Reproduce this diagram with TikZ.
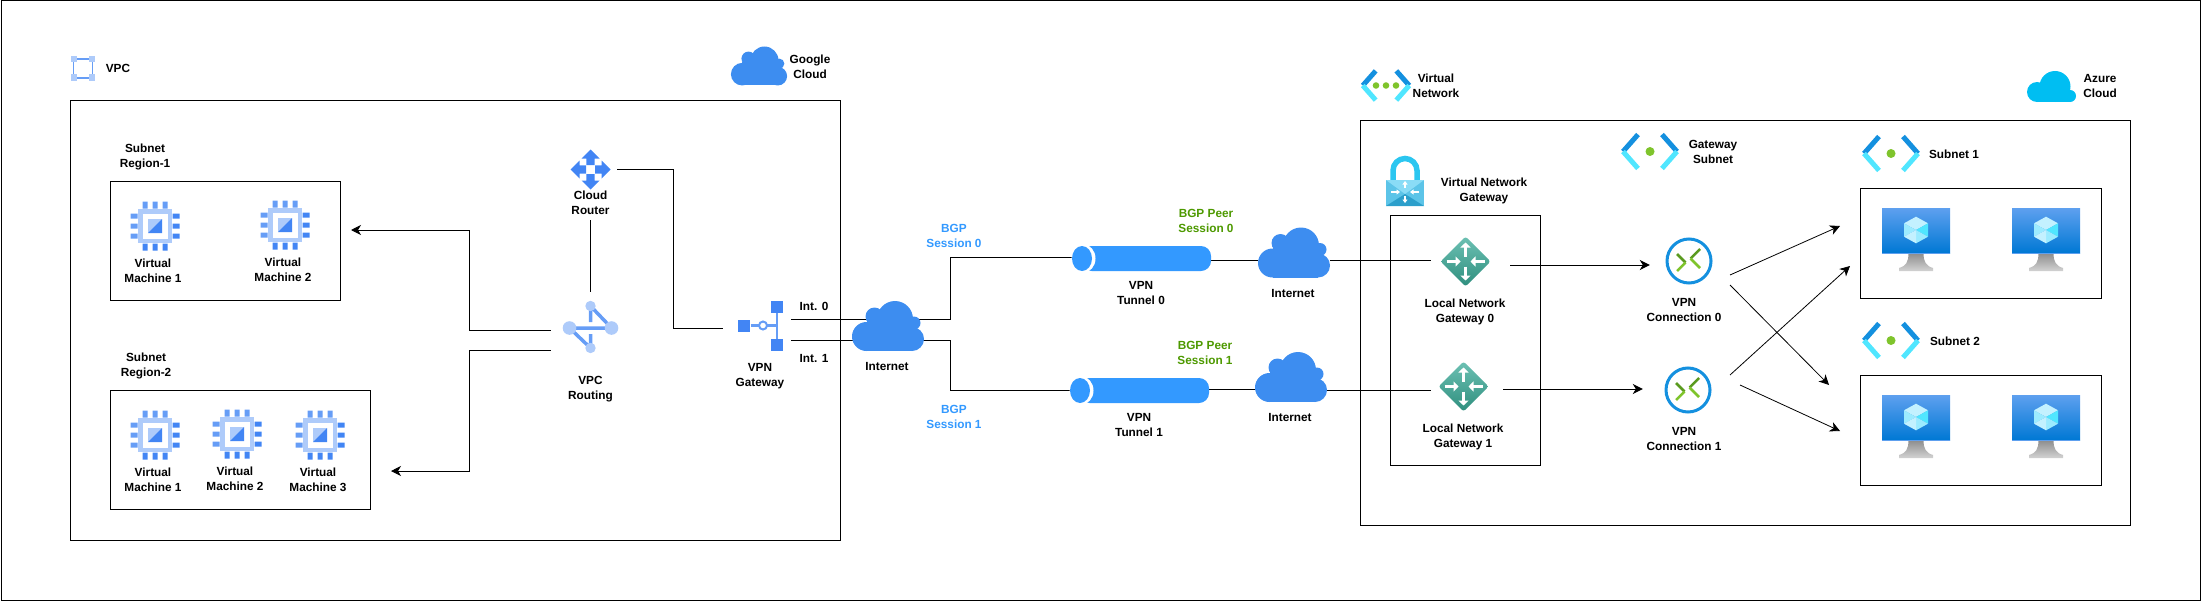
\documentclass[tikz,border=0pt]{standalone}
\usepackage{fontspec}
\setmainfont{Liberation Sans}
\usetikzlibrary{arrows.meta,positioning}

\definecolor{gblue}{HTML}{4285F4}
\definecolor{gmid}{HTML}{669DF6}
\definecolor{glight}{HTML}{AECBFA}
\definecolor{cloudblue}{HTML}{3D8DF0}
\definecolor{azurecloud}{HTML}{00BEF2}
\definecolor{tunnelblue}{HTML}{3399FF}
\definecolor{peergreen}{HTML}{4D9900}
\definecolor{azdark}{HTML}{1490DF}
\definecolor{azlight}{HTML}{50E6FF}
\definecolor{azgreen}{HTML}{7FC42C}
\definecolor{azdkgreen}{HTML}{5A9A1F}
\definecolor{tealtop}{HTML}{6CC0B3}
\definecolor{tealbot}{HTML}{2F8F7E}
\definecolor{locktop}{HTML}{8ADCF6}
\definecolor{lockmid}{HTML}{5CC4E8}
\definecolor{lockbot}{HTML}{2C9FCB}
\definecolor{shackle}{HTML}{2BC6F0}
\definecolor{screentop}{HTML}{5EA0EF}
\definecolor{screenbot}{HTML}{0078D4}
\definecolor{cubetop}{HTML}{C3F1FF}
\definecolor{cubeside}{HTML}{9CEBFF}

\begin{document}
\begin{tikzpicture}[
  x=1pt, y=-1pt,
  lbl/.style={inner sep=0pt, align=center, font=\fontsize{11.8}{15}\selectfont\bfseries},
  bgplbl/.style={lbl, text=tunnelblue},
  peerlbl/.style={lbl, text=peergreen},
  slot/.style={inner sep=0pt, minimum width=#1},
  frame/.style={draw, line width=1pt, inner sep=0pt},
  link/.style={line width=1pt},
  arrow/.style={link, -{Stealth[length=10pt,width=10pt,inset=3pt]}},
  slant/.style={arrow, line width=.8pt},
  % icons
  chip/.pic={
    \fill[glight] (-17,-17) rectangle (17,17);
    \fill[white] (-12.5,-12.5) rectangle (12.5,12.5);
    \fill[glight] (-7,-7) rectangle (7,7);
    \fill[gblue] (7,-7) -- (7,7) -- (-7,7) -- cycle;
    \fill[gmid] (-12.5,-24.5) rectangle ++(5,7) (-2.5,-24.5) rectangle ++(5,7) (7.5,-24.5) rectangle ++(5,7);
    \fill[gblue] (-12.5,17.5) rectangle ++(5,7) (-2.5,17.5) rectangle ++(5,7) (7.5,17.5) rectangle ++(5,7);
    \fill[gmid] (-24.5,-12.5) rectangle ++(7,5) (-24.5,-2.5) rectangle ++(7,5) (-24.5,7.5) rectangle ++(7,5);
    \fill[gblue] (17.5,-12.5) rectangle ++(7,5) (17.5,-2.5) rectangle ++(7,5) (17.5,7.5) rectangle ++(7,5);
  },
  routerarm/.pic={
    \fill[gblue] (0,-20) -- (9,-11) -- (4.2,-11) -- (4.2,-4.5) -- (-4.2,-4.5) -- (-4.2,-11) -- (-9,-11) -- cycle;
  },
  routericon/.pic={
    \pic {routerarm};
    \pic[rotate=90] {routerarm};
    \pic[rotate=180] {routerarm};
    \pic[rotate=270] {routerarm};
  },
  routingicon/.pic={
    \draw[gmid, line width=3.5pt] (-21,0) -- (21,0) (0,-22) -- (21,0) (0,20) -- (-21,0)
      (0,-22) -- (0,-6) (0,20) -- (0,6);
    \fill[glight] (-21,0) circle[radius=6.8];
    \fill[glight] (21,0) circle[radius=6.8];
    \fill[glight] (0,-22) circle[radius=5.2];
    \fill[glight] (0,20) circle[radius=5.2];
  },
  gatewayicon/.pic={
    \draw[gmid, line width=2.5pt] (16.5,-14) -- (16.5,14);
    \draw[gmid, line width=2.5pt] (-10,0) -- (16.5,0);
    \draw[gmid, line width=2pt, fill=white] (2.5,0) circle[radius=4];
    \fill[gblue] (-22.5,-5.5) rectangle ++(12,11.5);
    \fill[gblue] (10.5,-24.5) rectangle ++(12,11.5);
    \fill[gblue] (10.5,13.5) rectangle ++(12,11.5);
  },
  vpcicon/.pic={
    \draw[gmid, line width=1.5pt] (-9.5,-9.5) rectangle (9.5,9.5);
    \fill[glight] (-12.3,-12.5) rectangle ++(6.5,6.5);
    \fill[glight] (5.8,-12.5) rectangle ++(6.5,6.5);
    \fill[glight] (-12.3,6) rectangle ++(6.5,6.5);
    \fill[glight] (5.8,6) rectangle ++(6.5,6.5);
  },
  webcloud/.pic={
    \fill[cloudblue] (-21.5,10.5) circle[radius=14.5];
    \fill[cloudblue] (-13.5,-9.5) circle[radius=9];
    \fill[cloudblue] (7,-7) circle[radius=18];
    \fill[cloudblue] (26,-3) circle[radius=6.5];
    \fill[cloudblue] (24,13) circle[radius=12];
    \fill[cloudblue] (-21.5,-5) rectangle (24,25);
  },
  bluecloud/.pic={
    \fill[azurecloud] (-14.5,5.5) circle[radius=10];
    \fill[azurecloud] (3.5,0) circle[radius=15.5];
    \fill[azurecloud] (18.5,9.5) circle[radius=6];
    \fill[azurecloud] (-14.5,1) rectangle (18.5,15.5);
  },
  brackets/.pic={
    \draw[azdark, line width=5pt] (-12,-17) -- (-27,0);
    \draw[azlight, line width=5pt] (-27,0) -- (-12,17);
    \draw[azdark, line width=5pt] (12,-17) -- (27,0);
    \draw[azlight, line width=5pt] (27,0) -- (12,17);
  },
  subneticon/.pic={
    \pic {brackets};
    \fill[azgreen] (0,0) circle[radius=4.5];
  },
  vneticon/.pic={
    \pic[scale=.86] {brackets};
    \fill[azgreen] (-10,0) circle[radius=3.3];
    \fill[azgreen] (0,0) circle[radius=3.3];
    \fill[azgreen] (10,0) circle[radius=3.3];
  },
  lockicon/.pic={
    \draw[shackle, line width=5.5pt, rounded corners=12pt] (-12,-12) -- (-12,-33.5) -- (12,-33.5) -- (12,-12);
    \fill[lockmid] (-19,-12) rectangle (19,14);
    \fill[locktop] (-19,-12) -- (19,-12) -- (0,2) -- cycle;
    \fill[lockbot] (-19,14) -- (19,14) -- (0,2) -- cycle;
    \draw[white, line width=1.3pt, -{Triangle[length=3.5pt,width=5pt]}] (0,-4) -- (0,-11);
    \draw[white, line width=1.3pt, -{Triangle[length=3.5pt,width=5pt]}] (0,4) -- (0,11);
    \draw[white, line width=1.3pt, -{Triangle[length=3.5pt,width=5pt]}] (-14,0) -- (-5,0);
    \draw[white, line width=1.3pt, -{Triangle[length=3.5pt,width=5pt]}] (14,0) -- (5,0);
  },
  lngicon/.pic={
    \shade[top color=tealtop, bottom color=tealbot, rounded corners=2.5pt]
      (0,-25) -- (25,0) -- (0,25) -- (-25,0) -- cycle;
    \draw[white, line width=2.5pt, -{Triangle[length=5pt,width=10pt]}] (0,-5) -- (0,-19);
    \draw[white, line width=2.5pt, -{Triangle[length=5pt,width=10pt]}] (0,5) -- (0,19);
    \draw[white, line width=2.5pt, -{Triangle[length=5pt,width=10pt]}] (-19,0) -- (-5,0);
    \draw[white, line width=2.5pt, -{Triangle[length=5pt,width=10pt]}] (19,0) -- (5,0);
  },
  connicon/.pic={
    \draw[azdark, line width=3pt, fill=white] (0,0) circle[radius=22];
    \draw[azdkgreen, line width=2.5pt] (-12,-7) -- (-3.5,1.5);
    \draw[azgreen, line width=2.5pt] (-3.5,1.5) -- (-12,10);
    \draw[azdkgreen, line width=2.5pt] (11,-12) -- (1.5,-2.5);
    \draw[azgreen, line width=2.5pt] (1.5,-2.5) -- (11,7);
  },
  vmicon/.pic={
    \shade[top color=gray!90, bottom color=gray!35]
      (-7.5,45) -- (7.5,45) .. controls (7.5,54) and (10,58) .. (17,60) -- (17,63) -- (-17,63) -- (-17,60)
      .. controls (-10,58) and (-7.5,54) .. (-7.5,45);
    \shade[top color=screentop, bottom color=screenbot] (-34,0) rectangle (34,45);
    \fill[screentop] (-34,44.5) rectangle (34,45.5);
    \fill[cubetop] (0,22) -- (-12,15.3) -- (0,8.7) -- (12,15.3) -- cycle;
    \fill[azlight] (0,22) -- (12,15.3) -- (12,28.7) -- cycle;
    \fill[cubeside] (0,22) -- (-12,15.3) -- (-12,28.7) -- cycle;
    \fill[cubeside] (0,22) -- (12,28.7) -- (0,35.3) -- cycle;
    \fill[cubetop] (0,22) -- (-12,28.7) -- (0,35.3) -- cycle;
  },
  tunnelicon/.pic={
    \fill[tunnelblue, rounded corners=10pt] (0,-12.5) -- (69.5,-12.5) -- (69.5,12.5) -- (-60,12.5) -- (-60,-12.5) -- cycle;
    \fill[white] (-58,0) ellipse[x radius=12, y radius=14];
    \fill[tunnelblue] (-59.5,0) ellipse[x radius=10, y radius=12.5];
  }
]
\useasboundingbox (0,0) rectangle (2201,602);

% Frames
\node[frame, minimum width=2199pt, minimum height=599pt] (page) at (1100.5,300.5) {};
\node[frame, minimum width=770pt, minimum height=440pt] (vpc) at (455,320) {};
\node[frame, minimum width=230pt, minimum height=119pt] (region1) at (225,240.5) {};
\node[frame, minimum width=260pt, minimum height=119pt] (region2) at (240,449.5) {};
\node[frame, minimum width=770pt, minimum height=405pt] (vnet) at (1745,322.5) {};
\node[frame, minimum width=150pt, minimum height=250pt] (gwbox) at (1465,340) {};
\node[frame, minimum width=241pt, minimum height=110pt] (subnet1) at (1980.5,243) {};
\node[frame, minimum width=241pt, minimum height=110pt] (subnet2) at (1980.5,430) {};

% Google side nodes
\node[slot=49pt, minimum height=49pt] (vm1a) at (155,226) {};
\node[slot=49pt, minimum height=49pt] (vm1b) at (285,225) {};
\node[slot=49pt, minimum height=49pt] (vm2a) at (155,435) {};
\node[slot=49pt, minimum height=49pt] (vm2b) at (237,434) {};
\node[slot=49pt, minimum height=49pt] (vm2c) at (320,435) {};
\node[slot=53pt, minimum height=39pt] (router) at (590.5,169.5) {};
\node[slot=79pt, minimum height=72pt] (routing) at (590.5,328) {};
\node[slot=68pt, minimum height=50pt] (vpngw) at (757,329.5) {};
\node[slot=72pt, minimum height=50pt] (inet) at (888,326) {};
\node[slot=24pt, minimum height=25pt] (vpcmark) at (83,68.5) {};
\node[slot=56pt, minimum height=38pt] (gcloud) at (759,66) {};

% Tunnels and Azure side nodes
\node[slot=139pt, minimum height=25pt] (tun0) at (1141.5,258.5) {};
\node[slot=139pt, minimum height=25pt] (tun1) at (1139.5,390.5) {};
\node[slot=72pt, minimum height=49pt] (inet0) at (1294,252.5) {};
\node[slot=72pt, minimum height=48pt] (inet1) at (1291,377) {};
\node[slot=79pt, minimum height=49pt] (lng0) at (1470.5,260) {};
\node[slot=72pt, minimum height=49pt] (lng1) at (1467,390) {};
\node[slot=78pt, minimum height=48pt] (conn0) at (1689,261) {};
\node[slot=90pt, minimum height=48pt] (conn1) at (1688,390) {};
\node[slot=50pt, minimum height=29pt] (vnetmark) at (1386,85.5) {};
\node[slot=49pt, minimum height=31pt] (azcloud) at (2051.5,86.5) {};
\node[slot=58pt, minimum height=35pt] (gwmark) at (1650,151.5) {};
\node[slot=38pt, minimum height=50pt] (lockmark) at (1405,192) {};
\node[slot=58pt, minimum height=35pt] (sub1mark) at (1891,153.5) {};
\node[slot=58pt, minimum height=35pt] (sub2mark) at (1891,340.5) {};
\node[slot=68pt, minimum height=63pt] (vm3a) at (1916,239.5) {};
\node[slot=68pt, minimum height=63pt] (vm3b) at (2046,239.5) {};
\node[slot=68pt, minimum height=63pt] (vm4a) at (1916,426.5) {};
\node[slot=68pt, minimum height=63pt] (vm4b) at (2046,426.5) {};

% Labels
\node[lbl] (vpclbl) at (118,68) {VPC};
\node[lbl] (gcloudlbl) at (810,67) {Google\\Cloud};
\node[lbl] (region1lbl) at (145,157) {Subnet\\Region-1};
\node[lbl] (region2lbl) at (146,366) {Subnet\\Region-2};
\node[lbl, below=8pt of vm1a, xshift=-2pt] (vm1alab) {Virtual\\Machine 1};
\node[lbl, below=8pt of vm1b, xshift=-2pt] (vm1blab) {Virtual\\Machine 2};
\node[lbl, below=8pt of vm2a, xshift=-2pt] (vm2alab) {Virtual\\Machine 1};
\node[lbl, below=8pt of vm2b, xshift=-2pt] (vm2blab) {Virtual\\Machine 2};
\node[lbl, below=8pt of vm2c, xshift=-2pt] (vm2clab) {Virtual\\Machine 3};
\node[lbl] (routerlbl) at (590.5,203) {Cloud\\Router};
\node[lbl] (routinglbl) at (590.5,389) {VPC\\Routing};
\node[lbl] (vpngwlbl) at (760,376) {VPN\\Gateway};
\node[lbl] (int0lbl) at (814,306) {Int. 0};
\node[lbl] (int1lbl) at (814,358) {Int. 1};
\node[lbl] (inetlbl) at (887,366) {Internet};
\node[bgplbl] (bgp0lbl) at (954,236) {BGP\\Session 0};
\node[bgplbl] (bgp1lbl) at (954,417) {BGP\\Session 1};
\node[lbl] (tun0lbl) at (1141,293) {VPN\\Tunnel 0};
\node[lbl] (tun1lbl) at (1139,425) {VPN\\Tunnel 1};
\node[peerlbl] (peer0lbl) at (1206,221) {BGP Peer\\Session 0};
\node[peerlbl] (peer1lbl) at (1205,353) {BGP Peer\\Session 1};
\node[lbl] (inet0lbl) at (1293,293) {Internet};
\node[lbl] (inet1lbl) at (1290,417) {Internet};
\node[lbl] (vnetlbl) at (1436,86) {Virtual\\Network};
\node[lbl] (azcloudlbl) at (2100,86) {Azure\\Cloud};
\node[lbl] (gwsublbl) at (1713,152) {Gateway\\Subnet};
\node[lbl] (vngwlbl) at (1484,191) {Virtual Network\\Gateway};
\node[lbl] (lng0lbl) at (1465,312) {Local Network\\Gateway 0};
\node[lbl] (lng1lbl) at (1463,437) {Local Network\\Gateway 1};
\node[lbl] (conn0lbl) at (1684,310) {VPN\\Connection 0};
\node[lbl] (conn1lbl) at (1684,439) {VPN\\Connection 1};
\node[lbl] (sub1lbl) at (1954,154) {Subnet 1};
\node[lbl] (sub2lbl) at (1955,341) {Subnet 2};

% Arrow ends
\coordinate (reg1in) at (351,230);
\coordinate (reg2in) at (391,471);
\coordinate (sub1a) at (1840,226);
\coordinate (sub1b) at (1850,266);
\coordinate (sub2a) at (1829,385);
\coordinate (sub2b) at (1840,431);

% Links
\draw[link] ([yshift=-5pt]routerlbl.south) -- (routing.north);
\draw[arrow] ([yshift=-2pt]routing.west) -- ++(-81,0) |- (reg1in);
\draw[arrow] ([yshift=-22pt]routing.west) -- ++(-81,0) |- (reg2in);
\draw[link] (router.east) -- ++(56,0) |- ([yshift=1.5pt]vpngw.west);
\draw[link] ([yshift=10.5pt]vpngw.east) -- ([yshift=7pt]inet.center);
\draw[link] ([yshift=-10.5pt]vpngw.east) -- ([yshift=-14pt]inet.center);
\draw[link] ([yshift=7pt]inet.center) -- ++(62,0) |- ([yshift=1.5pt]tun0.west);
\draw[link] ([yshift=-14pt]inet.center) -- ++(62,0) |- (tun1.west);
\draw[link] ([yshift=-1.5pt]tun0.east) -- ([yshift=-7.5pt]inet0.west);
\draw[link] ([yshift=1.5pt]tun1.east) -- ([yshift=-12pt]inet1.west);
\draw[link] ([yshift=-7.5pt]inet0.east) -- (lng0.west);
\draw[link] ([yshift=-13pt]inet1.east) -- (lng1.west);
\draw[arrow] ([yshift=-5pt]lng0.east) -- ([yshift=-4pt]conn0.west);
\draw[arrow] ([yshift=1pt]lng1.east) -- ([yshift=1pt]conn1.west);
\draw[slant] ([shift={(41,14)}]conn0.center) -- (sub1a);
\draw[slant] ([shift={(41,24)}]conn0.center) -- (sub2a);
\draw[slant] ([shift={(42,-15)}]conn1.center) -- (sub1b);
\draw[slant] ([shift={(52,-5)}]conn1.center) -- (sub2b);

% Icons
\pic at (vm1a) {chip};
\pic at (vm1b) {chip};
\pic at (vm2a) {chip};
\pic at (vm2b) {chip};
\pic at (vm2c) {chip};
\pic at (router) {routericon};
\pic at (routing) {routingicon};
\pic at (760.5,325.5) {gatewayicon};
\pic at (vpcmark) {vpcicon};
\pic[scale=.78] at (gcloud) {webcloud};
\pic at (inet) {webcloud};
\pic at (inet0) {webcloud};
\pic at (inet1) {webcloud};
\pic at (tun0) {tunnelicon};
\pic at (tun1) {tunnelicon};
\pic at (azcloud) {bluecloud};
\pic at (vnetmark) {vneticon};
\pic at (gwmark) {subneticon};
\pic at (sub1mark) {subneticon};
\pic at (sub2mark) {subneticon};
\pic at (lockmark) {lockicon};
\pic at (1465.5,261.5) {lngicon};
\pic at (1463.5,386.5) {lngicon};
\pic at (conn0) {connicon};
\pic at (conn1) {connicon};
\pic at (1916,208) {vmicon};
\pic at (2046,208) {vmicon};
\pic at (1916,395) {vmicon};
\pic at (2046,395) {vmicon};

\end{tikzpicture}
\end{document}
